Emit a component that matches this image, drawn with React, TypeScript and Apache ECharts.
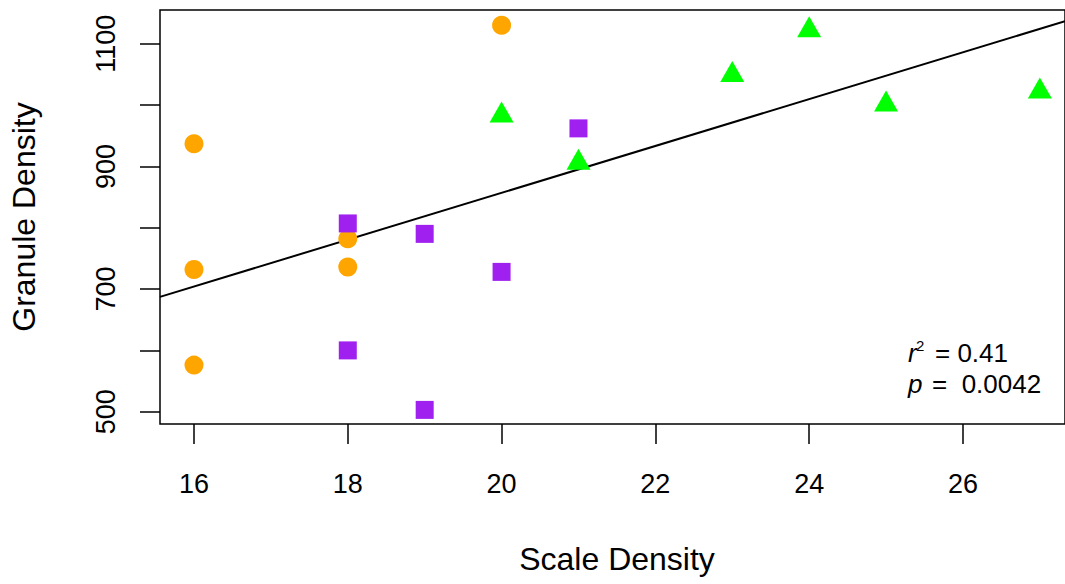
import React, { useEffect, useRef } from "react";
import * as echarts from "echarts";

// ---- data ----
const orangeX = [16, 16, 16, 18, 18, 20];
const orangeY = [937, 732, 576, 782, 736, 1130];
const purpleX = [18, 18, 19, 19, 20, 21];
const purpleY = [807, 600, 790, 503, 728, 962];
const greenX = [20, 21, 23, 24, 25, 27];
const greenY = [983, 906, 1049, 1122, 1001, 1022];

const fitIntercept = 93.1;
const fitSlope = 38.19;

const xRange = [15.558, 27.327];
const yRange = [480, 1155];
const xTickValues = [16, 18, 20, 22, 24, 26];
const yTickValues = [500, 600, 700, 800, 900, 1000, 1100];
const yLabelValues = [500, 700, 900, 1100];

const xTitle = "Scale Density";
const yTitle = "Granule Density";
const r2Text = "= 0.41";
const pText = "=  0.0042";

const FONT = "'Liberation Sans', Arial, Helvetica, sans-serif";

const pairs = (xs: number[], ys: number[]) => xs.map((x, i) => [x, ys[i]]);

export default function App() {
  const ref = useRef<HTMLDivElement>(null);
  useEffect(() => {
    if (!ref.current) return;
    const chart = echarts.init(ref.current, null, { renderer: "svg" });
    const fitLine = [
      [xRange[0], fitIntercept + fitSlope * xRange[0]],
      [xRange[1], fitIntercept + fitSlope * xRange[1]],
    ];
    const txt = (x: number, y: number, text: string, fontSize: number, italic = false) => ({
      type: "text",
      x,
      y,
      style: {
        text,
        fontSize,
        fontStyle: italic ? "italic" : "normal",
        fontFamily: FONT,
        fill: "#000",
        verticalAlign: "middle",
        textVerticalAlign: "middle",
        whiteSpace: "pre",
      },
    });
    chart.setOption({
      animation: false,
      backgroundColor: "#fff",
      textStyle: { fontFamily: FONT },
      grid: {
        left: 160,
        top: 10,
        right: 0,
        bottom: 160,
        show: true,
        borderColor: "#000",
        borderWidth: 1.5,
        backgroundColor: "transparent",
      },
      xAxis: {
        type: "value",
        min: xRange[0],
        max: xRange[1],
        name: xTitle,
        nameLocation: "middle",
        nameGap: 119,
        nameTextStyle: {
          fontSize: 32,
          color: "#000",
          fontFamily: FONT,
          padding: [0, 0, 0, 9],
        },
        axisLine: { show: false },
        splitLine: { show: false },
        axisTick: {
          show: true,
          inside: false,
          length: 20,
          customValues: xTickValues,
          lineStyle: { color: "#000", width: 1.5 },
        },
        axisLabel: {
          customValues: xTickValues,
          fontSize: 27,
          color: "#000",
          margin: 46,
          fontFamily: FONT,
          formatter: (v: number) => String(v),
        },
      },
      yAxis: {
        type: "value",
        min: yRange[0],
        max: yRange[1],
        name: yTitle,
        nameLocation: "middle",
        nameGap: 120,
        nameRotate: 90,
        nameTextStyle: { fontSize: 32, color: "#000", fontFamily: FONT },
        axisLine: { show: false },
        splitLine: { show: false },
        axisTick: {
          show: true,
          inside: false,
          length: 20,
          customValues: yTickValues,
          lineStyle: { color: "#000", width: 1.5 },
        },
        axisLabel: {
          customValues: yLabelValues,
          fontSize: 27,
          color: "#000",
          margin: 41,
          rotate: 90,
          fontFamily: FONT,
          formatter: (v: number) => String(v),
        },
      },
      series: [
        {
          type: "line",
          data: fitLine,
          symbol: "none",
          clip: true,
          lineStyle: { color: "#000", width: 2 },
          z: 1,
        },
        {
          type: "scatter",
          data: pairs(orangeX, orangeY),
          symbol: "circle",
          symbolSize: 19,
          itemStyle: { color: "#FFA500", opacity: 1 },
          z: 2,
        },
        {
          type: "scatter",
          data: pairs(purpleX, purpleY),
          symbol: "rect",
          symbolSize: 18,
          itemStyle: { color: "#A020F0", opacity: 1 },
          z: 2,
        },
        {
          type: "scatter",
          data: pairs(greenX, greenY),
          symbol: "triangle",
          symbolSize: [24, 21],
          symbolOffset: [0, -3.5],
          itemStyle: { color: "#00FF00", opacity: 1 },
          z: 2,
        },
      ],
      graphic: [
        txt(908, 353, "r", 26, true),
        txt(916, 345, "2", 15),
        txt(935, 353, r2Text, 26),
        txt(908, 384, "p", 26, true),
        txt(932, 384, pText, 26),
      ],
    });
    return () => chart.dispose();
  }, []);
  return (
    <div
      ref={ref}
      style={{ position: "absolute", left: 0, top: 0, width: 1065, height: 584 }}
    />
  );
}
